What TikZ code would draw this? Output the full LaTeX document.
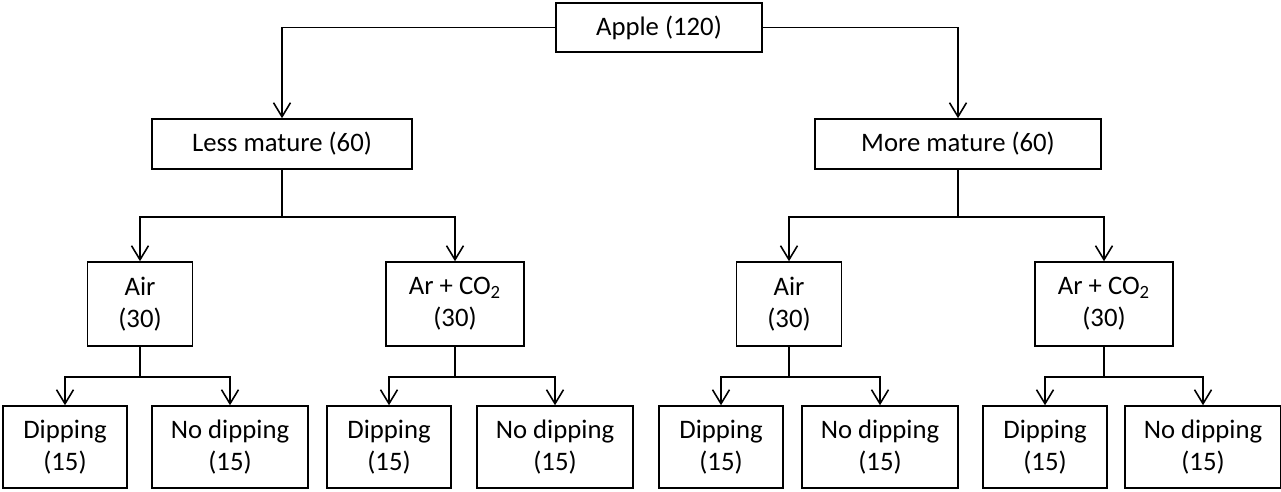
\documentclass[tikz,border=0pt]{standalone}
\usepackage{fontspec}
\setmainfont{Carlito}
\usepackage{tikz}
\usetikzlibrary{arrows.meta,positioning}

\begin{document}
\begin{tikzpicture}[
    x=0.02cm, y=-0.02cm,
    block/.style={rectangle, draw, line width=0.9pt, inner sep=0pt, align=center, text centered,
                  font=\fontsize{15.2pt}{18.3pt}\selectfont},
    top/.style={block, minimum width=4.12cm, minimum height=0.98cm},
    group/.style={block, minimum height=1.0cm},
    gas/.style={block, minimum height=1.68cm},
    dip/.style={block, minimum width=2.48cm, minimum height=1.64cm},
    nodip/.style={block, minimum width=3.12cm, minimum height=1.64cm},
    arrow/.style={line width=0.9pt, -{Straight Barb[length=0.28cm, width=0.34cm]}}
  ]
    \useasboundingbox (0,0) rectangle (1281,491);

    % Nodes
    \node[top] (apple) at (659,27.5) {Apple (120)};
    \node[group, minimum width=5.2cm] (less) at (282,144) {Less mature (60)};
    \node[group, minimum width=5.72cm] (more) at (958,144) {More mature (60)};

    \node[gas, minimum width=2.1cm] (less_air) at (140,304) {Air\\(30)};
    \node[gas, minimum width=2.76cm] (less_arco) at (455,304) {Ar + CO\textsubscript{2}\\(30)};
    \node[gas, minimum width=2.1cm] (more_air) at (789,304) {Air\\(30)};
    \node[gas, minimum width=2.76cm] (more_arco) at (1104,304) {Ar + CO\textsubscript{2}\\(30)};

    \node[dip] (less_air_dip) at (65,447) {Dipping\\(15)};
    \node[nodip] (less_air_nodip) at (230,447) {No dipping\\(15)};
    \node[dip] (less_arco_dip) at (389,447) {Dipping\\(15)};
    \node[nodip] (less_arco_nodip) at (555,447) {No dipping\\(15)};
    \node[dip] (more_air_dip) at (721,447) {Dipping\\(15)};
    \node[nodip] (more_air_nodip) at (880,447) {No dipping\\(15)};
    \node[dip] (more_arco_dip) at (1045,447) {Dipping\\(15)};
    \node[nodip] (more_arco_nodip) at (1203,447) {No dipping\\(15)};

    % Arrows
    \draw[arrow] (apple.west) -| (less.north);
    \draw[arrow] (apple.east) -| (more.north);

    \draw[arrow] (less.south) -- ++(0,47) -| (less_air.north);
    \draw[arrow] (less.south) -- ++(0,47) -| (less_arco.north);
    \draw[arrow] (more.south) -- ++(0,47) -| (more_air.north);
    \draw[arrow] (more.south) -- ++(0,47) -| (more_arco.north);

    \draw[arrow] (less_air.south) -- ++(0,30) -| (less_air_dip.north);
    \draw[arrow] (less_air.south) -- ++(0,30) -| (less_air_nodip.north);
    \draw[arrow] (less_arco.south) -- ++(0,30) -| (less_arco_dip.north);
    \draw[arrow] (less_arco.south) -- ++(0,30) -| (less_arco_nodip.north);
    \draw[arrow] (more_air.south) -- ++(0,30) -| (more_air_dip.north);
    \draw[arrow] (more_air.south) -- ++(0,30) -| (more_air_nodip.north);
    \draw[arrow] (more_arco.south) -- ++(0,30) -| (more_arco_dip.north);
    \draw[arrow] (more_arco.south) -- ++(0,30) -| (more_arco_nodip.north);
\end{tikzpicture}
\end{document}
